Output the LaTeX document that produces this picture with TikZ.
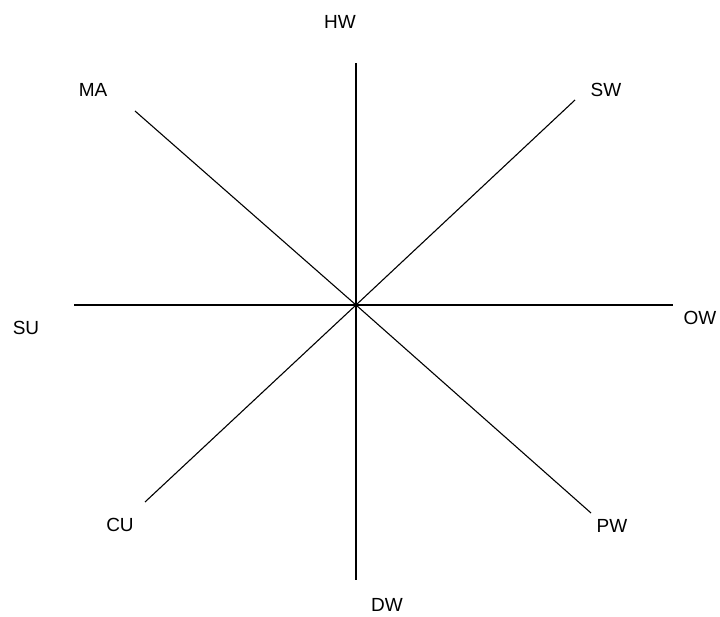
\documentclass[tikz,border=0pt]{standalone}
\usepackage{fontspec}
\setmainfont{Liberation Sans}
\begin{document}
\begin{tikzpicture}[x=1pt,y=-1pt,
  axis/.style={line width=1.3pt,black},
  diag/.style={line width=1.1pt,black},
  lbl/.style={inner sep=0pt,font=\fontsize{19}{19}\selectfont}]
\useasboundingbox (0,0) rectangle (720,617);
\fill[white] (0,0) rectangle (720,617);
\coordinate (c) at (356,305);
\coordinate (n) at (356,63);
\coordinate (s) at (356,580);
\coordinate (w) at (74,305);
\coordinate (e) at (673,305);
\coordinate (nw) at (135,111);
\coordinate (ne) at (575,100);
\coordinate (sw) at (145,502);
\coordinate (se) at (591,513);
\draw[axis] (c) -- (n);
\draw[axis] (c) -- (s);
\draw[axis] (c) -- (w);
\draw[axis] (c) -- (e);
\draw[diag] (c) -- (nw);
\draw[diag] (c) -- (ne);
\draw[diag] (c) -- (sw);
\draw[diag] (c) -- (se);
\node[lbl] (hw) at (340,22) {HW};
\node[lbl] (ma) at (93,90) {MA};
\node[lbl] (swl) at (606,90) {SW};
\node[lbl] (su) at (26,328) {SU};
\node[lbl] (ow) at (700,318) {OW};
\node[lbl] (cu) at (120,525) {CU};
\node[lbl] (pw) at (612,526) {PW};
\node[lbl] (dw) at (387,605) {DW};
\end{tikzpicture}
\end{document}
